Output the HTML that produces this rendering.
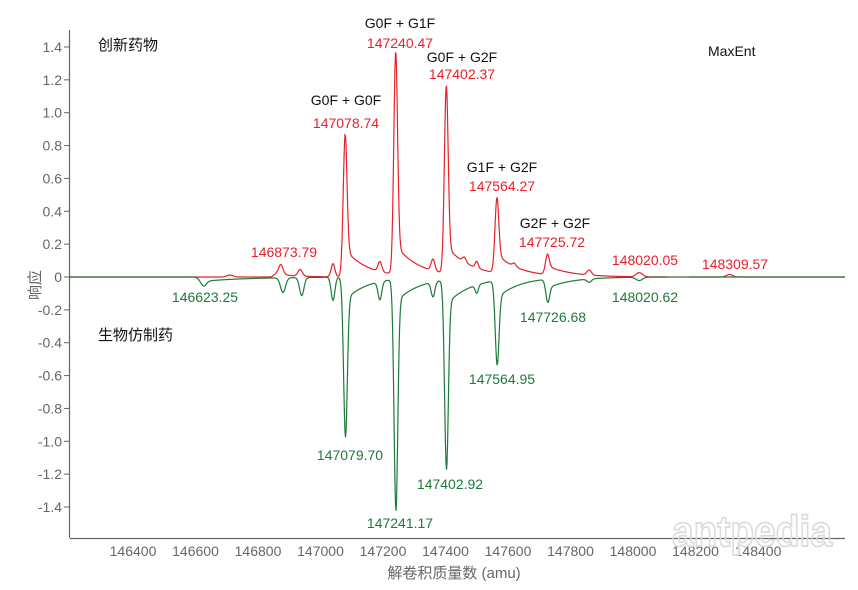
<!DOCTYPE html>
<html><head><meta charset="utf-8"><style>
html,body{margin:0;padding:0;background:#fff;width:858px;height:590px;overflow:hidden}
svg text{font-family:"Liberation Sans Narrow","Liberation Sans","Noto Sans CJK SC",sans-serif;font-size:14px}
.t{fill:#666}
.k{fill:#111}
.r{fill:#e8202a}
.g{fill:#1e7a3a}
</style></head><body>
<svg id="s" width="858" height="590" xmlns="http://www.w3.org/2000/svg">
<line x1="69.5" y1="30" x2="69.5" y2="538" stroke="#666" stroke-width="1.2"/>
<line x1="70" y1="538.5" x2="845" y2="538.5" stroke="#666" stroke-width="1.2"/>
<g id="yt"></g><g id="xt"></g>
<text x="672" y="546" fill="none" stroke="#dcdcdc" stroke-width="1.8" textLength="160" lengthAdjust="spacingAndGlyphs" style="font-size:44px;font-weight:bold">antpedia</text>
<path id="pr" fill="none" stroke="#e8202a" stroke-width="1.2"/>
<path id="pg" fill="none" stroke="#1e7a3a" stroke-width="1.2"/>
<text x="98" y="50" class="k" style="font-size:15px">创新药物</text>
<text x="98" y="340" class="k" style="font-size:15px">生物仿制药</text>
<text x="708" y="56" class="k">MaxEnt</text>
<text x="346" y="105" class="k" text-anchor="middle">G0F + G0F</text>
<text x="346" y="128" class="r" text-anchor="middle">147078.74</text>
<text x="400" y="28" class="k" text-anchor="middle">G0F + G1F</text>
<text x="400" y="48" class="r" text-anchor="middle">147240.47</text>
<text x="462" y="62" class="k" text-anchor="middle">G0F + G2F</text>
<text x="462" y="79" class="r" text-anchor="middle">147402.37</text>
<text x="502" y="172" class="k" text-anchor="middle">G1F + G2F</text>
<text x="502" y="191" class="r" text-anchor="middle">147564.27</text>
<text x="555" y="228" class="k" text-anchor="middle">G2F + G2F</text>
<text x="552" y="247" class="r" text-anchor="middle">147725.72</text>
<text x="284" y="257" class="r" text-anchor="middle">146873.79</text>
<text x="645" y="265" class="r" text-anchor="middle">148020.05</text>
<text x="735" y="269" class="r" text-anchor="middle">148309.57</text>
<text x="205" y="302" class="g" text-anchor="middle">146623.25</text>
<text x="553" y="322" class="g" text-anchor="middle">147726.68</text>
<text x="645" y="302" class="g" text-anchor="middle">148020.62</text>
<text x="502" y="384" class="g" text-anchor="middle">147564.95</text>
<text x="350" y="460" class="g" text-anchor="middle">147079.70</text>
<text x="450" y="489" class="g" text-anchor="middle">147402.92</text>
<text x="400" y="528" class="g" text-anchor="middle">147241.17</text>
<text x="454" y="578" class="t" style="font-size:15px" text-anchor="middle">解卷积质量数 (amu)</text>
<text transform="translate(40,285) rotate(-90)" class="t" style="font-size:15px" text-anchor="middle">响应</text>
</svg>
<script>
var X=function(m){return 133+(m-146400)*0.3125},Y=function(v){return 277-v*164.3};
var ns="http://www.w3.org/2000/svg",yt=document.getElementById('yt'),xt=document.getElementById('xt');
for(var i=-7;i<=7;i++){var v=i*0.2,y=Y(v);var l=document.createElementNS(ns,'line');l.setAttribute('x1',64);l.setAttribute('x2',69);l.setAttribute('y1',y);l.setAttribute('y2',y);l.setAttribute('stroke','#666');yt.appendChild(l);
var t=document.createElementNS(ns,'text');t.setAttribute('x',62);t.setAttribute('y',y+5);t.setAttribute('text-anchor','end');t.setAttribute('class','t');t.textContent=i==0?'0':v.toFixed(1);yt.appendChild(t);}
for(var m=146400;m<=148400;m+=200){var t=document.createElementNS(ns,'text');t.setAttribute('x',X(m));t.setAttribute('y',556);t.setAttribute('text-anchor','middle');t.setAttribute('class','t');t.textContent=m;xt.appendChild(t);}
function gs(m,c,s){return Math.exp(-Math.pow((m-c)/s,2)/2)}
function tail(m,c,a,len){return m<c?a*gs(m,c,8):a*Math.exp(-(m-c)/len)}
var R=[[146710,0.012,10],[146873,0.06,7],[146935,0.04,7],[147040,0.08,6],[147078.7,0.72,6],[147190,0.06,6],[147240.5,1.2,6],[147360,0.07,6],[147402.4,1.0,6],[147460,0.03,6],[147500,0.04,5],[147564.3,0.36,6],[147620,0.02,6],[147725.7,0.08,6],[147860,0.03,7],[148020,0.025,10],[148309,0.015,10]];
var RT=[[147082,0.16,70],[147244,0.17,75],[147406,0.16,80],[147568,0.11,70],[147730,0.05,80],[146860,0.02,60]];
var G=[[146623,-0.035,10],[146880,-0.09,8],[146940,-0.11,7],[147040,-0.14,6],[147079.7,-0.86,6],[147190,-0.11,6],[147241.2,-1.3,6],[147360,-0.09,6],[147402.9,-1.04,6],[147500,-0.05,5],[147565,-0.43,6],[147726.7,-0.1,6],[147860,-0.02,7],[148020,-0.02,10]];
var GT=[[147084,-0.13,70],[147246,-0.13,75],[147408,-0.14,80],[147570,-0.1,70],[147732,-0.05,80],[146630,-0.025,150]];
function build(P,T){var d='';for(var px=70;px<=845;px+=0.5){var m=146400+(px-133)/0.3125,v=0;P.forEach(function(p){v+=p[1]*gs(m,p[0],p[2])});T.forEach(function(p){v+=tail(m,p[0],p[1],p[2])});d+=(d?'L':'M')+px+' '+Y(v).toFixed(2);}return d}
document.getElementById('pr').setAttribute('d',build(R,RT));
document.getElementById('pg').setAttribute('d',build(G,GT));
</script>
</body></html>
